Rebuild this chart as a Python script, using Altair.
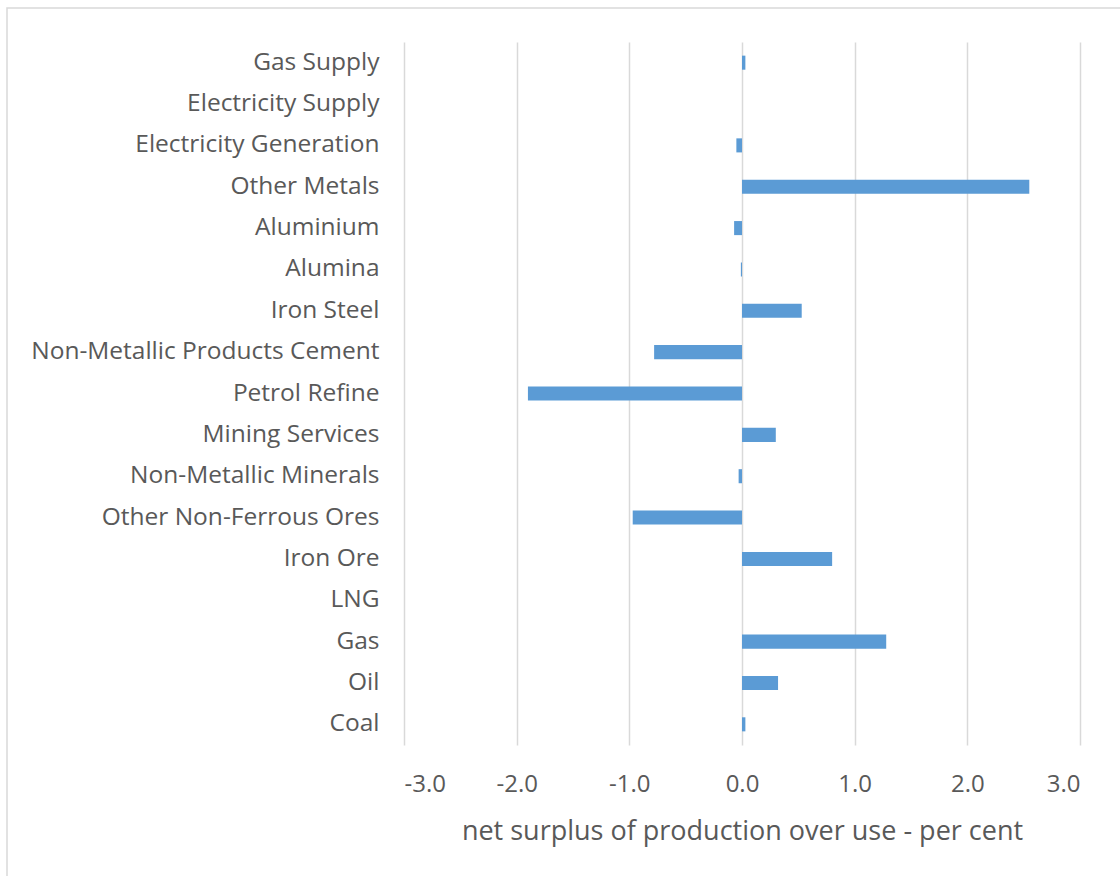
import altair as alt
import pandas as pd

# Sectors, top to bottom, and their net surplus (per cent)
sectors = [
    "Gas Supply", "Electricity Supply", "Electricity Generation", "Other Metals",
    "Aluminium", "Alumina", "Iron Steel", "Non-Metallic Products Cement",
    "Petrol Refine", "Mining Services", "Non-Metallic Minerals",
    "Other Non-Ferrous Ores", "Iron Ore", "LNG", "Gas", "Oil", "Coal",
]
surplus = [
    0.03, 0.0, -0.05, 2.55,
    -0.07, -0.01, 0.53, -0.78,
    -1.90, 0.30, -0.03,
    -0.97, 0.80, 0.0, 1.28, 0.32, 0.03,
]
x_ticks = [-3, -2, -1, 0, 1, 2, 3]

df = pd.DataFrame({"sector": sectors, "surplus": surplus})

FONT = "Open Sans"
TEXT = "#595959"
GRID = "#d9d9d9"

bars = alt.Chart(df).mark_bar(color="#5b9bd5").encode(
    y=alt.Y(
        "sector:N",
        sort=sectors,
        scale=alt.Scale(paddingInner=0.66, paddingOuter=0.33),
        axis=alt.Axis(
            title=None, ticks=False, domain=False, grid=False,
            labelFont=FONT, labelFontSize=24.5, labelColor=TEXT,
            labelPadding=25, labelLimit=420,
        ),
    ),
    x=alt.X(
        "surplus:Q",
        scale=alt.Scale(domain=[-3, 3], nice=False),
        axis=alt.Axis(
            values=x_ticks, labelExpr="datum.value + '.0'",
            title="net surplus of production over use - per cent",
            ticks=False, tickSize=0, domain=False,
            grid=True, gridColor=GRID, gridWidth=1.5,
            labelFont=FONT, labelFontSize=24, labelColor=TEXT,
            labelBaseline="alphabetic", labelPadding=46,
            titleFont=FONT, titleFontSize=27, titleColor=TEXT,
            titleFontWeight="normal", titleBaseline="alphabetic", titleY=94,
        ),
    ),
)

# light frame around the whole figure
frame = alt.Chart(pd.DataFrame({"k": [0]})).mark_rect(
    fill=None, stroke=GRID, strokeWidth=1.5
).encode(
    x=alt.value(-397), x2=alt.value(760),
    y=alt.value(-34), y2=alt.value(900),
)

chart = alt.layer(frame, bars).properties(
    width=676,
    height=703,
    padding={"left": 404, "top": 42, "right": 40, "bottom": 131},
    autosize=alt.AutoSizeParams(type="none"),
    background="white",
).configure_view(stroke=None)

chart.save("out.html", embed_options={"renderer": "svg", "actions": False})
